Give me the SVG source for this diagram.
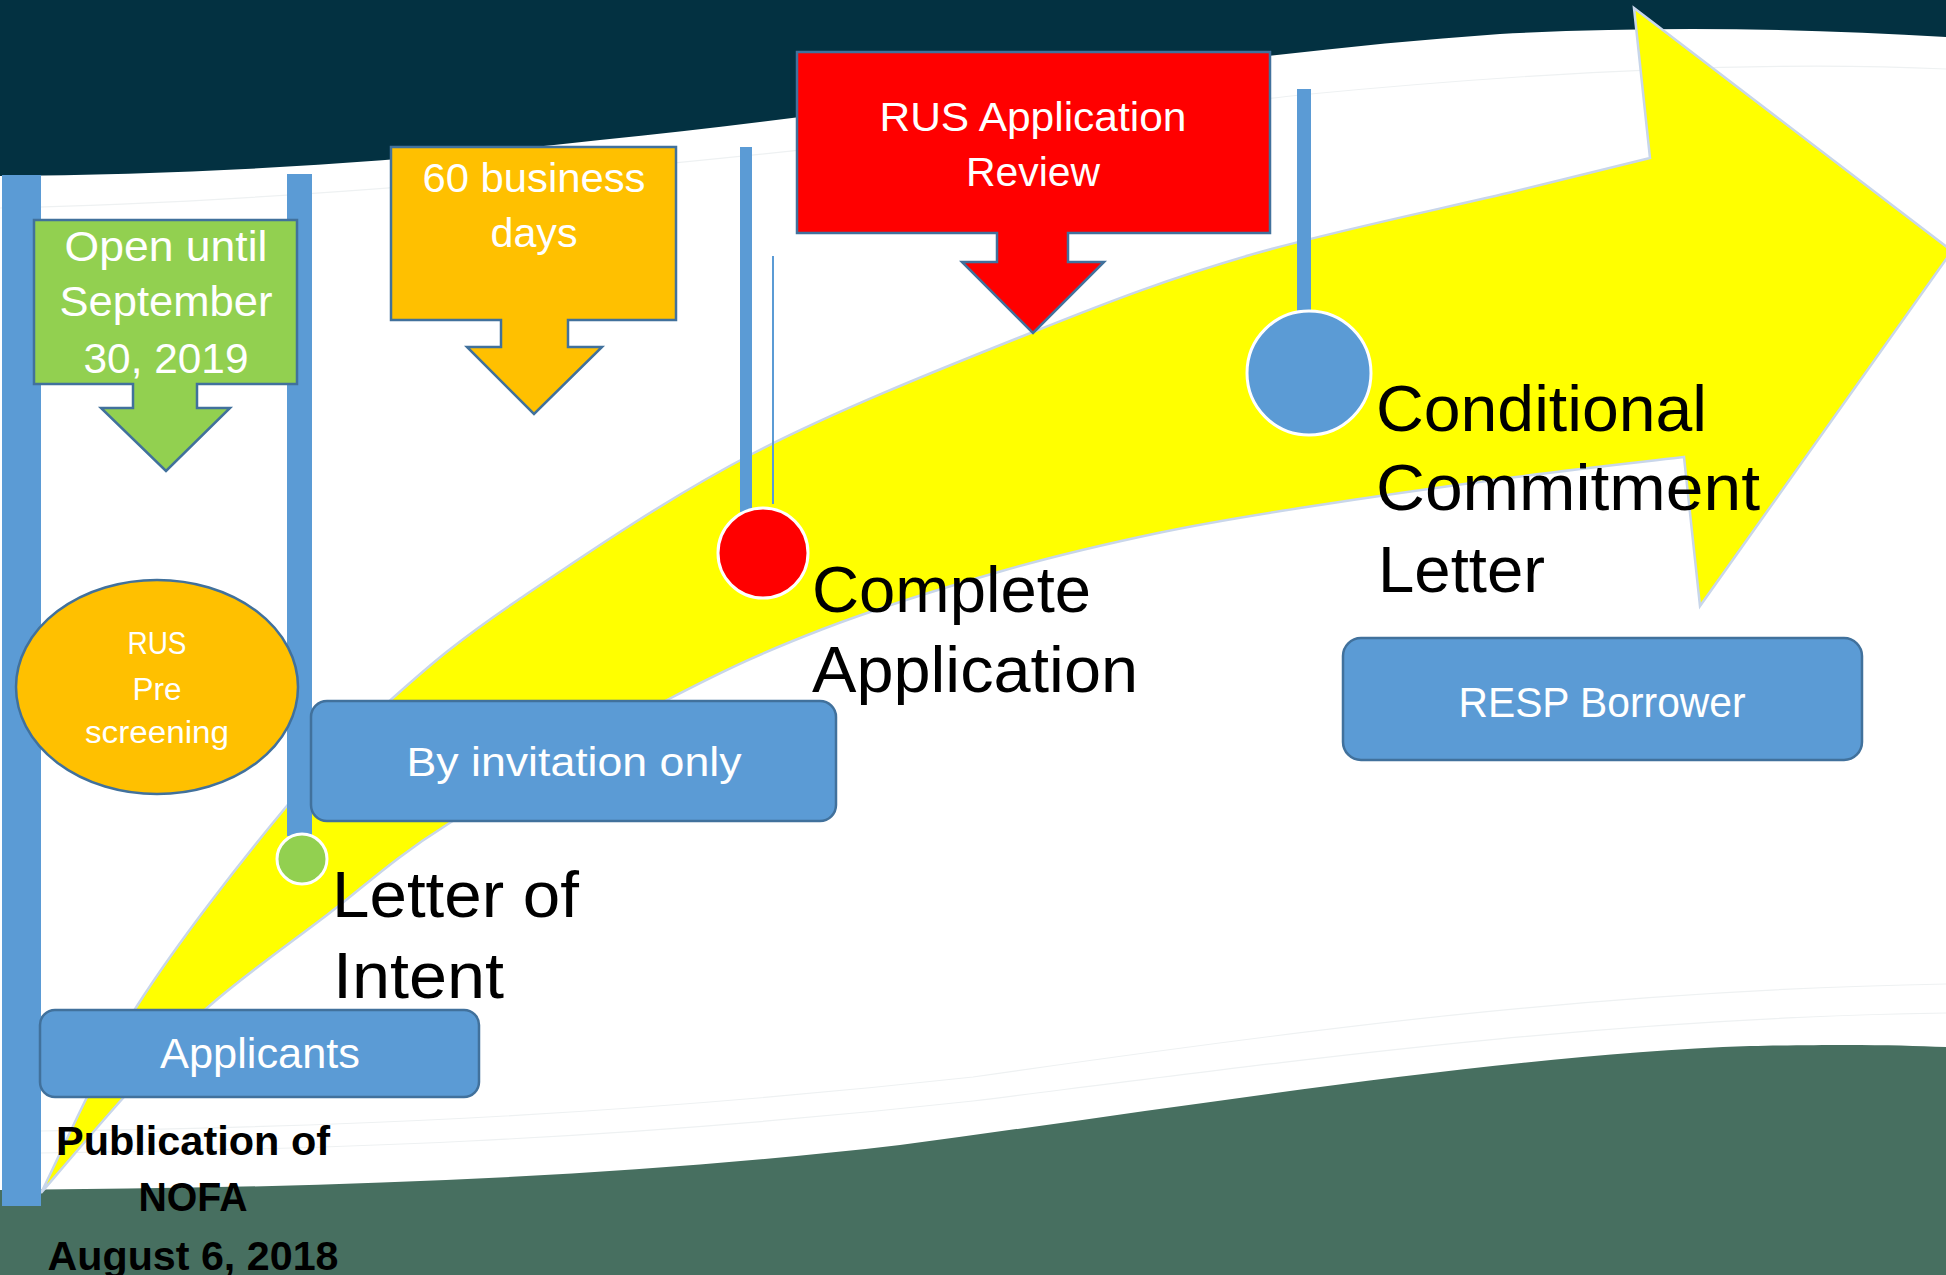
<svg xmlns="http://www.w3.org/2000/svg" width="1946" height="1275" viewBox="0 0 1946 1275">
<style>
.callout{stroke:#41719C;stroke-width:2.5;stroke-linejoin:miter}
.box{fill:#5B9BD5;stroke:#41719C;stroke-width:2.5}
.pole{fill:#5B9BD5}
.dot{stroke:#FFFFFF;stroke-width:3}
.wt{font-family:"Liberation Sans",Arial,sans-serif;fill:#FFFFFF;text-anchor:middle}
.bk{font-family:"Liberation Sans",Arial,sans-serif;fill:#000000;font-size:64px}
.bb{font-family:"Liberation Sans",Arial,sans-serif;fill:#000000;font-size:40px;font-weight:bold;text-anchor:middle}
.faint{fill:none;stroke:#EEF1F2;stroke-width:1.2}
</style>
<rect x="0" y="0" width="1946" height="1275" fill="#FFFFFF"/>
<g id="background">
<path d="M0,0 L1946,0 L1946,37 C1800,28 1650,26 1500,34 C1200,55 900,110 600,140 C400,162 200,175 0,176 Z" fill="#033141"/>
<path class="faint" d="M0,208 C400,200 900,140 1300,95 C1600,66 1800,62 1946,69"/>
<path class="faint" d="M40,1131 C300,1128 600,1118 973,1077 C1300,1030 1600,990 1946,984"/>
<path class="faint" d="M40,1153 C300,1150 600,1142 973,1101 C1300,1060 1600,1018 1946,1013"/>
<path d="M0,1190 C300,1188 600,1180 900,1145 C1200,1105 1500,1055 1750,1046 C1850,1044 1900,1045 1946,1047 L1946,1275 L0,1275 Z" fill="#476F60"/>
</g>
<g id="yellow-arrow">
<path d="M41,1193 C57,1162 96.2,1070.3 137,1006 C177.8,941.7 243.2,858.5 286,807 C328.8,755.5 355.3,731.5 394,697 C432.7,662.5 458.3,640.5 518,600 C577.7,559.5 666.2,498.7 752,454 C837.8,409.3 950,365.2 1033,332 C1116,298.8 1169.5,278.5 1250,255 C1330.5,231.5 1449.3,207.2 1516,191 C1582.7,174.8 1627.7,163.5 1650,158 L1634,8 L1952,251 L1700,606 L1684,457 C1656,460.3 1580,468.5 1516,477 C1452,485.5 1359.7,498.7 1300,508 C1240.3,517.3 1207.7,522.5 1158,533 C1108.3,543.5 1057.8,555 1002,571 C946.2,587 878.8,607.5 823,629 C767.2,650.5 729.5,667.5 667,700 C604.5,732.5 504.7,788.2 448,824 C391.3,859.8 367.2,884.3 327,915 C286.8,945.7 240.8,977.7 207,1008 C173.2,1038.3 151.7,1066.2 124,1097 C96.3,1127.8 54.8,1177 41,1193 Z" fill="#FFFF00" stroke="#C8D6EA" stroke-width="2.5" stroke-linejoin="miter"/>
</g>
<g id="connectors">
<rect class="pole" x="2" y="175" width="39" height="1031"/>
<rect class="pole" x="287" y="174" width="25" height="662"/>
<rect class="pole" x="740" y="147" width="12" height="365"/>
<line x1="773" y1="256" x2="773" y2="504" stroke="#5B9BD5" stroke-width="2"/>
<rect class="pole" x="1297" y="89" width="14" height="226"/>
</g>
<g id="open-until">
<path class="callout" fill="#92D050" d="M34,220 H297 V384 H197 V408 H230 L166,471 L101,408 H133 V384 H34 Z"/>
<text class="wt" font-size="43" x="166" y="261" textLength="203" lengthAdjust="spacingAndGlyphs">Open until</text>
<text class="wt" font-size="43" x="166" y="316" textLength="213" lengthAdjust="spacingAndGlyphs">September</text>
<text class="wt" font-size="43" x="166" y="373" textLength="165" lengthAdjust="spacingAndGlyphs">30, 2019</text>
</g>
<g id="business-days">
<path class="callout" fill="#FFC000" d="M391,147 H676 V320 H568 V347 H602 L534,414 L467,347 H501 V320 H391 Z"/>
<text class="wt" font-size="41" x="534" y="192" textLength="223" lengthAdjust="spacingAndGlyphs">60 business</text>
<text class="wt" font-size="41" x="534" y="247" textLength="87" lengthAdjust="spacingAndGlyphs">days</text>
</g>
<g id="rus-review">
<path class="callout" fill="#FF0000" d="M797,52 H1270 V233 H1068 V262 H1104 L1033,333 L962,262 H997 V233 H797 Z"/>
<text class="wt" font-size="41" x="1033" y="131" textLength="307" lengthAdjust="spacingAndGlyphs">RUS Application</text>
<text class="wt" font-size="41" x="1033" y="186" textLength="134" lengthAdjust="spacingAndGlyphs">Review</text>
</g>
<g id="pre-screening">
<ellipse cx="157" cy="687" rx="141" ry="107" fill="#FFC000" stroke="#41719C" stroke-width="2.5"/>
<text class="wt" font-size="31" x="157" y="654" textLength="59" lengthAdjust="spacingAndGlyphs">RUS</text>
<text class="wt" font-size="31" x="157" y="700" textLength="49" lengthAdjust="spacingAndGlyphs">Pre</text>
<text class="wt" font-size="31" x="157" y="743" textLength="144" lengthAdjust="spacingAndGlyphs">screening</text>
</g>
<g id="by-invitation">
<rect class="box" x="311" y="701" width="525" height="120" rx="16"/>
<text class="wt" font-size="40" x="574" y="776" textLength="335" lengthAdjust="spacingAndGlyphs">By invitation only</text>
</g>
<g id="applicants">
<rect class="box" x="40" y="1010" width="439" height="87" rx="15"/>
<text class="wt" font-size="42" x="260" y="1068" textLength="200" lengthAdjust="spacingAndGlyphs">Applicants</text>
</g>
<g id="resp-borrower">
<rect class="box" x="1343" y="638" width="519" height="122" rx="18"/>
<text class="wt" font-size="42" x="1602" y="717" textLength="287" lengthAdjust="spacingAndGlyphs">RESP Borrower</text>
</g>
<g id="letter-of-intent">
<circle class="dot" cx="302" cy="859" r="25" fill="#92D050"/>
<text class="bk" font-size="65" x="332" y="917" textLength="247" lengthAdjust="spacingAndGlyphs">Letter of</text>
<text class="bk" font-size="65" x="333" y="998" textLength="171" lengthAdjust="spacingAndGlyphs">Intent</text>
</g>
<g id="complete-application">
<circle class="dot" cx="763" cy="553" r="45" fill="#FF0000"/>
<text class="bk" x="812" y="612" textLength="279" lengthAdjust="spacingAndGlyphs">Complete</text>
<text class="bk" x="812" y="692" textLength="326" lengthAdjust="spacingAndGlyphs">Application</text>
</g>
<g id="conditional-commitment">
<circle class="dot" cx="1309" cy="373" r="62" fill="#5B9BD5"/>
<text class="bk" x="1376" y="431" textLength="331" lengthAdjust="spacingAndGlyphs">Conditional</text>
<text class="bk" x="1376" y="510" textLength="384" lengthAdjust="spacingAndGlyphs">Commitment</text>
<text class="bk" x="1378" y="592" textLength="167" lengthAdjust="spacingAndGlyphs">Letter</text>
</g>
<g id="publication">
<text class="bb" x="193" y="1155" textLength="274" lengthAdjust="spacingAndGlyphs">Publication of</text>
<text class="bb" x="193" y="1211" textLength="109" lengthAdjust="spacingAndGlyphs">NOFA</text>
<text class="bb" x="193" y="1270" textLength="291" lengthAdjust="spacingAndGlyphs">August 6, 2018</text>
</g>
</svg>
